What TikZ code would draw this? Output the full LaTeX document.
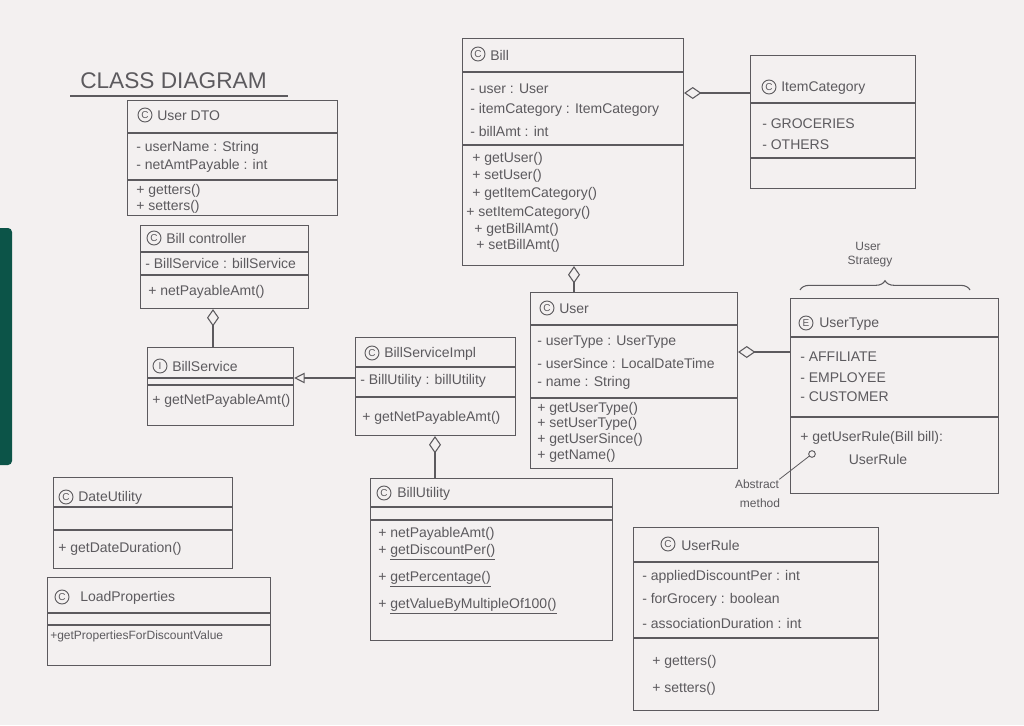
\documentclass[tikz,border=0pt]{standalone}
\usepackage{fontspec}
\setmainfont{Liberation Sans}
\usetikzlibrary{arrows.meta,decorations.pathreplacing}
\definecolor{paper}{RGB}{243,240,240}
\definecolor{pencil}{RGB}{92,90,94}
\definecolor{binder}{RGB}{12,84,72}
\begin{document}
\begin{tikzpicture}[x=0.75pt,y=-0.75pt,
  cls/.style 2 args={draw=pencil, line width=0.8pt, minimum width=#1*0.75pt,
    minimum height=#2*0.75pt, anchor=north west, inner sep=0pt},
  txt/.style={anchor=west, inner sep=0pt, text=pencil, font=\fontsize{10.5}{12}\selectfont},
  ctxt/.style={txt, anchor=center},
  kind/.style={circle, draw=pencil, line width=0.7pt, inner sep=0pt, minimum size=10.5pt,
    text=pencil, font=\fontsize{7.5}{8}\selectfont},
  rule/.style={draw=pencil, line width=0.8pt},
  agg/.style={rule, {Diamond[open,length=13pt,width=9pt]}-},
  real/.style={rule, -{Triangle[open,length=8pt,width=8pt]}},
]
\useasboundingbox (0,0) rectangle (1024,725);
\clip (0,0) rectangle (1024,725);
% paper and binder strip
\fill[paper] (0,0) rectangle (1024,725);
\fill[binder, rounded corners=3pt] (-6,228) rectangle (12,465);

% title
\node[txt, font=\fontsize{17}{20}\selectfont] (title) at (80,81) {CLASS DIAGRAM};
\draw[rule] (70,96) -- (288,96);

% ---- UserDTO
\node[cls={210}{115}] (dto) at (127,100) {};
\draw[rule] (dto.west |- 0,133) -- (dto.east |- 0,133);
\draw[rule] (dto.west |- 0,180) -- (dto.east |- 0,180);
\node[kind] (dtoc) at (145,115) {C};
\node[txt] (dto0) at (157,116) {User DTO};
\node[txt] (dto1) at (136,148) {- userName : String};
\node[txt] (dto2) at (136,166) {- netAmtPayable : int};
\node[txt] (dto3) at (136,191) {+ getters()};
\node[txt] (dto4) at (136,207) {+ setters()};

% ---- BillController
\node[cls={168}{83}] (ctrl) at (140,225) {};
\draw[rule] (ctrl.west |- 0,252) -- (ctrl.east |- 0,252);
\draw[rule] (ctrl.west |- 0,275) -- (ctrl.east |- 0,275);
\node[kind] (ctrlc) at (154,238) {C};
\node[txt] (ctrl0) at (166,238) {Bill controller};
\node[txt] (ctrl1) at (145,263) {- BillService : billService};
\node[txt] (ctrl2) at (148,292) {+ netPayableAmt()};

% ---- BillService
\node[cls={146}{78}] (svc) at (147,347) {};
\draw[rule] (svc.west |- 0,378) -- (svc.east |- 0,378);
\draw[rule] (svc.west |- 0,385) -- (svc.east |- 0,385);
\node[kind] (svcc) at (160,366) {I};
\node[txt] (svc0) at (172,366) {BillService};
\node[txt] (svc1) at (152,401) {+ getNetPayableAmt()};

% ---- BillServiceImpl
\node[cls={160}{98}] (impl) at (355,337) {};
\draw[rule] (impl.west |- 0,367) -- (impl.east |- 0,367);
\draw[rule] (impl.west |- 0,397) -- (impl.east |- 0,397);
\node[kind] (implc) at (372,353) {C};
\node[txt] (impl0) at (384,354) {BillServiceImpl};
\node[txt] (impl1) at (360,381) {- BillUtility : billUtility};
\node[txt] (impl2) at (362,418) {+ getNetPayableAmt()};

% ---- Bill
\node[cls={221}{227}] (bill) at (462,38) {};
\draw[rule] (bill.west |- 0,72) -- (bill.east |- 0,72);
\draw[rule] (bill.west |- 0,145) -- (bill.east |- 0,145);
\node[kind] (billc) at (478,54) {C};
\node[txt] (bill0) at (490,55) {Bill};
\node[txt] (bill1) at (470,89) {- user : User};
\node[txt] (bill2) at (470,110) {- itemCategory : ItemCategory};
\node[txt] (bill3) at (470,131) {- billAmt : int};
\node[txt] (bill4) at (472,159) {+ getUser()};
\node[txt] (bill5) at (472,176) {+ setUser()};
\node[txt] (bill6) at (472,194) {+ getItemCategory()};
\node[txt] (bill7) at (466,213) {+ setItemCategory()};
\node[txt] (bill8) at (474,230) {+ getBillAmt()};
\node[txt] (bill9) at (476,246) {+ setBillAmt()};

% ---- ItemCategory
\node[cls={165}{133}] (cat) at (750,55) {};
\draw[rule] (cat.west |- 0,103) -- (cat.east |- 0,103);
\draw[rule] (cat.west |- 0,158) -- (cat.east |- 0,158);
\node[kind] (catc) at (769,87) {C};
\node[txt] (cat0) at (781,88) {ItemCategory};
\node[txt] (cat1) at (762,124) {- GROCERIES};
\node[txt] (cat2) at (762,145) {- OTHERS};

% ---- User
\node[cls={207}{176}] (user) at (530,292) {};
\draw[rule] (user.west |- 0,325) -- (user.east |- 0,325);
\draw[rule] (user.west |- 0,398) -- (user.east |- 0,398);
\node[kind] (userc) at (547,308) {C};
\node[txt] (user0) at (559,309) {User};
\node[txt] (user1) at (537,342) {- userType : UserType};
\node[txt] (user2) at (537,363) {- userSince : LocalDateTime};
\node[txt] (user3) at (537,383) {- name : String};
\node[txt] (user4) at (537,409) {+ getUserType()};
\node[txt] (user5) at (537,424) {+ setUserType()};
\node[txt] (user6) at (537,440) {+ getUserSince()};
\node[txt] (user7) at (537,456) {+ getName()};

% ---- UserType
\node[cls={208}{195}] (utype) at (790,298) {};
\draw[rule] (utype.west |- 0,337) -- (utype.east |- 0,337);
\draw[rule] (utype.west |- 0,417) -- (utype.east |- 0,417);
\node[kind] (utypec) at (806,323) {E};
\node[txt] (utype0) at (819,324) {UserType};
\node[txt] (utype1) at (800,357) {- AFFILIATE};
\node[txt] (utype2) at (800,378) {- EMPLOYEE};
\node[txt] (utype3) at (800,397) {- CUSTOMER};
\node[txt] (utype4) at (800,438) {+ getUserRule(Bill bill):};
\node[ctxt] (utype5) at (878,459) {UserRule};

% strategy brace
\node[ctxt, font=\fontsize{9}{11}\selectfont] (strat1) at (868,246) {User};
\node[ctxt, font=\fontsize{9}{11}\selectfont] (strat2) at (870,262) {Strategy};
\draw[rule, decorate, decoration={brace, amplitude=7pt}] (800,290) -- (970,290);

% abstract method note
\node[ctxt, font=\fontsize{9}{11}\selectfont] (abs1) at (757,484) {Abstract};
\node[ctxt, font=\fontsize{9}{11}\selectfont] (abs2) at (760,503) {method};
\node[circle, draw=pencil, line width=0.7pt, inner sep=0pt, minimum size=5pt] (absdot) at (812,454) {};
\draw[rule, line width=0.6pt] (abs1.north east) -- (absdot);

% ---- UserRule
\node[cls={245}{183}] (rule) at (633,527) {};
\draw[rule] (rule.west |- 0,562) -- (rule.east |- 0,562);
\draw[rule] (rule.west |- 0,638) -- (rule.east |- 0,638);
\node[kind] (rulec) at (668,544) {C};
\node[txt] (rule0) at (681,545) {UserRule};
\node[txt] (rule1) at (642,577) {- appliedDiscountPer : int};
\node[txt] (rule2) at (642,600) {- forGrocery : boolean};
\node[txt] (rule3) at (642,623) {- associationDuration : int};
\node[txt] (rule4) at (652,662) {+ getters()};
\node[txt] (rule5) at (652,689) {+ setters()};

% ---- BillUtility
\node[cls={242}{162}] (util) at (370,478) {};
\draw[rule] (util.west |- 0,507) -- (util.east |- 0,507);
\draw[rule] (util.west |- 0,520) -- (util.east |- 0,520);
\node[kind] (utilc) at (384,493) {C};
\node[txt] (util0) at (397,494) {BillUtility};
\node[txt] (util1) at (378,534) {+ netPayableAmt()};
\node[txt] (util2) at (378,552) {+ \underline{getDiscountPer()}};
\node[txt] (util3) at (378,579) {+ \underline{getPercentage()}};
\node[txt] (util4) at (378,606) {+ \underline{getValueByMultipleOf100()}};

% ---- DateUtility
\node[cls={179}{91}] (date) at (53,477) {};
\draw[rule] (date.west |- 0,507) -- (date.east |- 0,507);
\draw[rule] (date.west |- 0,530) -- (date.east |- 0,530);
\node[kind] (datec) at (66,497) {C};
\node[txt] (date0) at (78,498) {DateUtility};
\node[txt] (date1) at (58,549) {+ getDateDuration()};

% ---- LoadProperties
\node[cls={223}{88}] (load) at (47,577) {};
\draw[rule] (load.west |- 0,613) -- (load.east |- 0,613);
\draw[rule] (load.west |- 0,625) -- (load.east |- 0,625);
\node[kind] (loadc) at (62,597) {C};
\node[txt] (load0) at (80,598) {LoadProperties};
\node[txt, font=\fontsize{9}{11}\selectfont] (load1) at (50,636) {+getPropertiesForDiscountValue};

% ---- relations
\draw[agg] (ctrl.south -| 213,0) -- (svc.north -| 213,0);
\draw[real] (impl.west |- 0,378) -- (svc.east |- 0,378);
\draw[agg] (impl.south -| 435,0) -- (util.north -| 435,0);
\draw[agg] (bill.south -| 574,0) -- (user.north -| 574,0);
\draw[agg] (bill.east |- 0,93) -- (cat.west |- 0,93);
\draw[agg] (user.east |- 0,352) -- (utype.west |- 0,352);
\end{tikzpicture}
\end{document}
